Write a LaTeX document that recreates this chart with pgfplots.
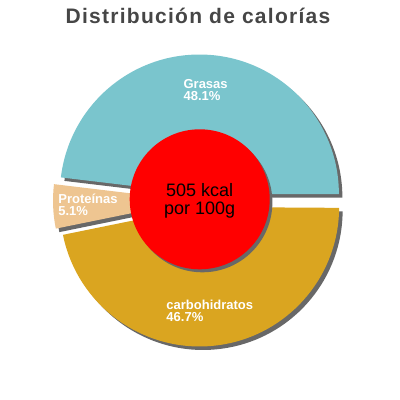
\documentclass[border=0pt]{standalone}
\usepackage{pgfplots}
\pgfplotsset{compat=1.18}
\usepackage{pgfplotstable}
\usepackage{fontspec}
\setmainfont{Liberation Sans}
\newfontfamily\titulofont[LetterSpace=6]{Liberation Sans}

\definecolor{porcion0}{HTML}{7AC5CD}
\definecolor{porcion1}{HTML}{EEC591}
\definecolor{porcion2}{HTML}{DAA520}
\definecolor{sombra}{HTML}{686868}
\definecolor{titulo}{HTML}{464646}

% calorias por macronutriente, en %
\pgfplotstableread[col sep=comma]{
nombre,pct
Grasas,48.1
Proteínas,5.1
carbohidratos,46.7
}\calorias

% geometria (1 unidad = 1 px)
\def\cx{199}
\def\cy{199.5}
\def\radio{139.5}
\def\expl{6.5}

\xdef\acum{0}
\foreach \i in {0,1,2}{%
  \pgfplotstablegetelem{\i}{pct}\of\calorias \let\pc\pgfplotsretval
  \pgfplotstablegetelem{\i}{nombre}\of\calorias \let\nom\pgfplotsretval
  \pgfmathsetmacro\ini{3.6*\acum}
  \pgfmathsetmacro\fin{3.6*(\acum+\pc)}
  \pgfmathsetmacro\med{(\ini+\fin)/2}
  \pgfmathsetmacro\ax{\cx+\expl*cos(\med)}
  \pgfmathsetmacro\ay{\cy+\expl*sin(\med)}
  \pgfmathsetmacro\bx{\ax+\radio*cos(\ini)}
  \pgfmathsetmacro\by{\ay+\radio*sin(\ini)}
  \pgfmathsetmacro\lx{\ax+0.75*\radio*cos(\med)}
  \pgfmathsetmacro\ly{\ay+0.75*\radio*sin(\med)}
  \expandafter\xdef\csname ax\i\endcsname{\ax}
  \expandafter\xdef\csname ay\i\endcsname{\ay}
  \expandafter\xdef\csname bx\i\endcsname{\bx}
  \expandafter\xdef\csname by\i\endcsname{\by}
  \expandafter\xdef\csname ini\i\endcsname{\ini}
  \expandafter\xdef\csname fin\i\endcsname{\fin}
  \expandafter\xdef\csname lx\i\endcsname{\lx}
  \expandafter\xdef\csname ly\i\endcsname{\ly}
  \expandafter\xdef\csname nom\i\endcsname{\nom}
  \expandafter\xdef\csname pc\i\endcsname{\pc}
  \pgfmathsetmacro\nuevo{\acum+\pc}
  \xdef\acum{\nuevo}
}

\begin{document}
\begin{tikzpicture}
\useasboundingbox (0,0) rectangle (400pt,400pt);
\begin{axis}[
    at={(0,0)}, anchor=south west,
    x=1pt, y=1pt,
    xmin=0, xmax=400, ymin=0, ymax=400,
    hide axis, clip=false,
]
% sombras
\pgfplotsinvokeforeach{0,1,2}{
  \fill[sombra, xshift=3.5pt, yshift=-3.5pt]
    (axis cs:\csname ax#1\endcsname,\csname ay#1\endcsname)
    -- (axis cs:\csname bx#1\endcsname,\csname by#1\endcsname)
    arc[start angle=\csname ini#1\endcsname, end angle=\csname fin#1\endcsname, radius=139.5pt]
    -- cycle;
}
% porciones
\pgfplotsinvokeforeach{0,1,2}{
  \fill[porcion#1]
    (axis cs:\csname ax#1\endcsname,\csname ay#1\endcsname)
    -- (axis cs:\csname bx#1\endcsname,\csname by#1\endcsname)
    arc[start angle=\csname ini#1\endcsname, end angle=\csname fin#1\endcsname, radius=139.5pt]
    -- cycle;
}
% circulo central
\fill[sombra] (axis cs:202.4,197.7) circle[radius=70pt];
\fill[red] (axis cs:199.7,200.7) circle[radius=70pt];
\node[align=center, font=\fontsize{18}{18}\selectfont, text=black]
  at (axis cs:199.7,199.6) {505 kcal\\por 100g};
% etiquetas
\pgfplotsinvokeforeach{0,1,2}{
  \node[align=left, text=white, font=\bfseries\fontsize{13}{12}\selectfont]
    at (axis cs:\csname lx#1\endcsname,\csname ly#1\endcsname)
    {\csname nom#1\endcsname\\\csname pc#1\endcsname\%};
}
% titulo
\node[anchor=base, text=titulo, font=\titulofont\bfseries\fontsize{21}{21}\selectfont]
  at (axis cs:198,376) {Distribución de calorías};
\end{axis}
\end{tikzpicture}
\end{document}
